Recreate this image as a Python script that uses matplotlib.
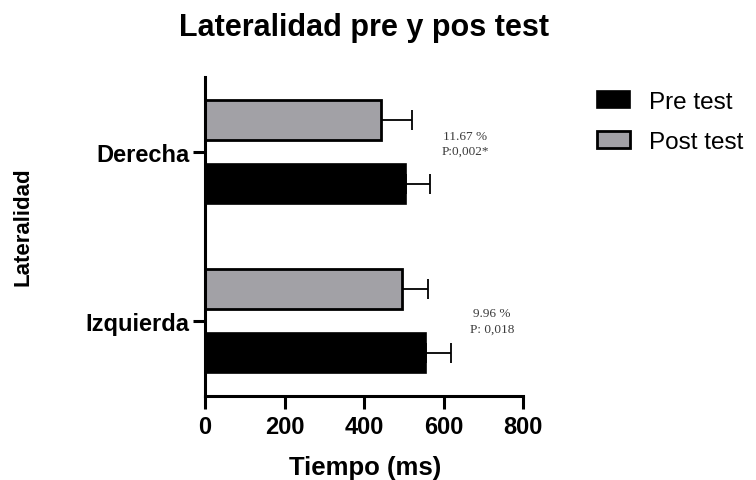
import matplotlib
matplotlib.use("Agg")
import matplotlib.pyplot as plt
import numpy as np

categories = ["Izquierda", "Derecha"]
pre_values = [555, 505]
pre_err = [65, 62]
post_values = [496, 444]
post_err = [64, 78]
annotations = ["9.96 %\nP: 0,018", "11.67 %\nP:0,002*"]
annot_x = [722, 654]
annot_dy = [0.0, 0.05]
xticks = [0, 200, 400, 600, 800]

plt.rcParams['font.family'] = ['Liberation Sans', 'DejaVu Sans']

fig = plt.figure(figsize=(7.56, 4.81), dpi=100)
ax = fig.add_axes([205/756, 1-397/481, 318/756, (397-78)/481])

y = np.arange(len(categories))
h = 0.237
off = 0.19
ax.barh(y - off, pre_values, height=h, color='black', edgecolor='black', linewidth=1.2,
        label='Pre test', zorder=2)
ax.errorbar(pre_values, y - off, xerr=[np.zeros(2), pre_err], fmt='none', ecolor='black',
            elinewidth=1.3, capsize=7.5, capthick=1.3, zorder=1)
ax.barh(y + off, post_values, height=h, color='#a2a1a6', edgecolor='black', linewidth=2,
        label='Post test', zorder=2)
ax.errorbar(post_values, y + off, xerr=[np.zeros(2), post_err], fmt='none', ecolor='black',
            elinewidth=1.3, capsize=7.5, capthick=1.3, zorder=1)

for i, t in enumerate(annotations):
    ax.text(annot_x[i], y[i] + annot_dy[i], t, ha='center', va='center', fontsize=9.5,
            family=['Liberation Serif'], color='#3a3a3a', linespacing=1.35)

ax.set_xlim(0, 800)
ax.set_ylim(-0.444, 1.444)
ax.set_xticks(xticks)
ax.set_yticks(y)
ax.set_yticklabels(categories)
for s in ['top', 'right']:
    ax.spines[s].set_visible(False)
for s in ['left', 'bottom']:
    ax.spines[s].set_linewidth(2.2)
ax.tick_params(axis='y', width=2.2, length=9, labelsize=17, direction='out', pad=2)
ax.tick_params(axis='x', width=2.2, length=9, labelsize=17, direction='out', pad=5)
for lbl in ax.get_xticklabels() + ax.get_yticklabels():
    lbl.set_fontweight('bold')

fig.text(365/756, 1-475/481, 'Tiempo (ms)', ha='center', va='baseline',
         fontsize=18.5, fontweight='bold')
fig.text(23/756, 1-227/481, 'Lateralidad', ha='center', va='center', rotation=90,
         fontsize=16, fontweight='bold')
fig.text(364/756, 1-36/481, 'Lateralidad pre y pos test', ha='center', va='baseline',
         fontsize=22, fontweight='bold')

handles, labels = ax.get_legend_handles_labels()
leg = fig.legend(handles, labels, loc='upper left', bbox_to_anchor=(575/756, 1-70/481),
                 frameon=False, fontsize=17.5, handlelength=1.35, handleheight=0.7,
                 labelspacing=0.75, handletextpad=0.8)

fig.savefig('out.png', dpi=100)
